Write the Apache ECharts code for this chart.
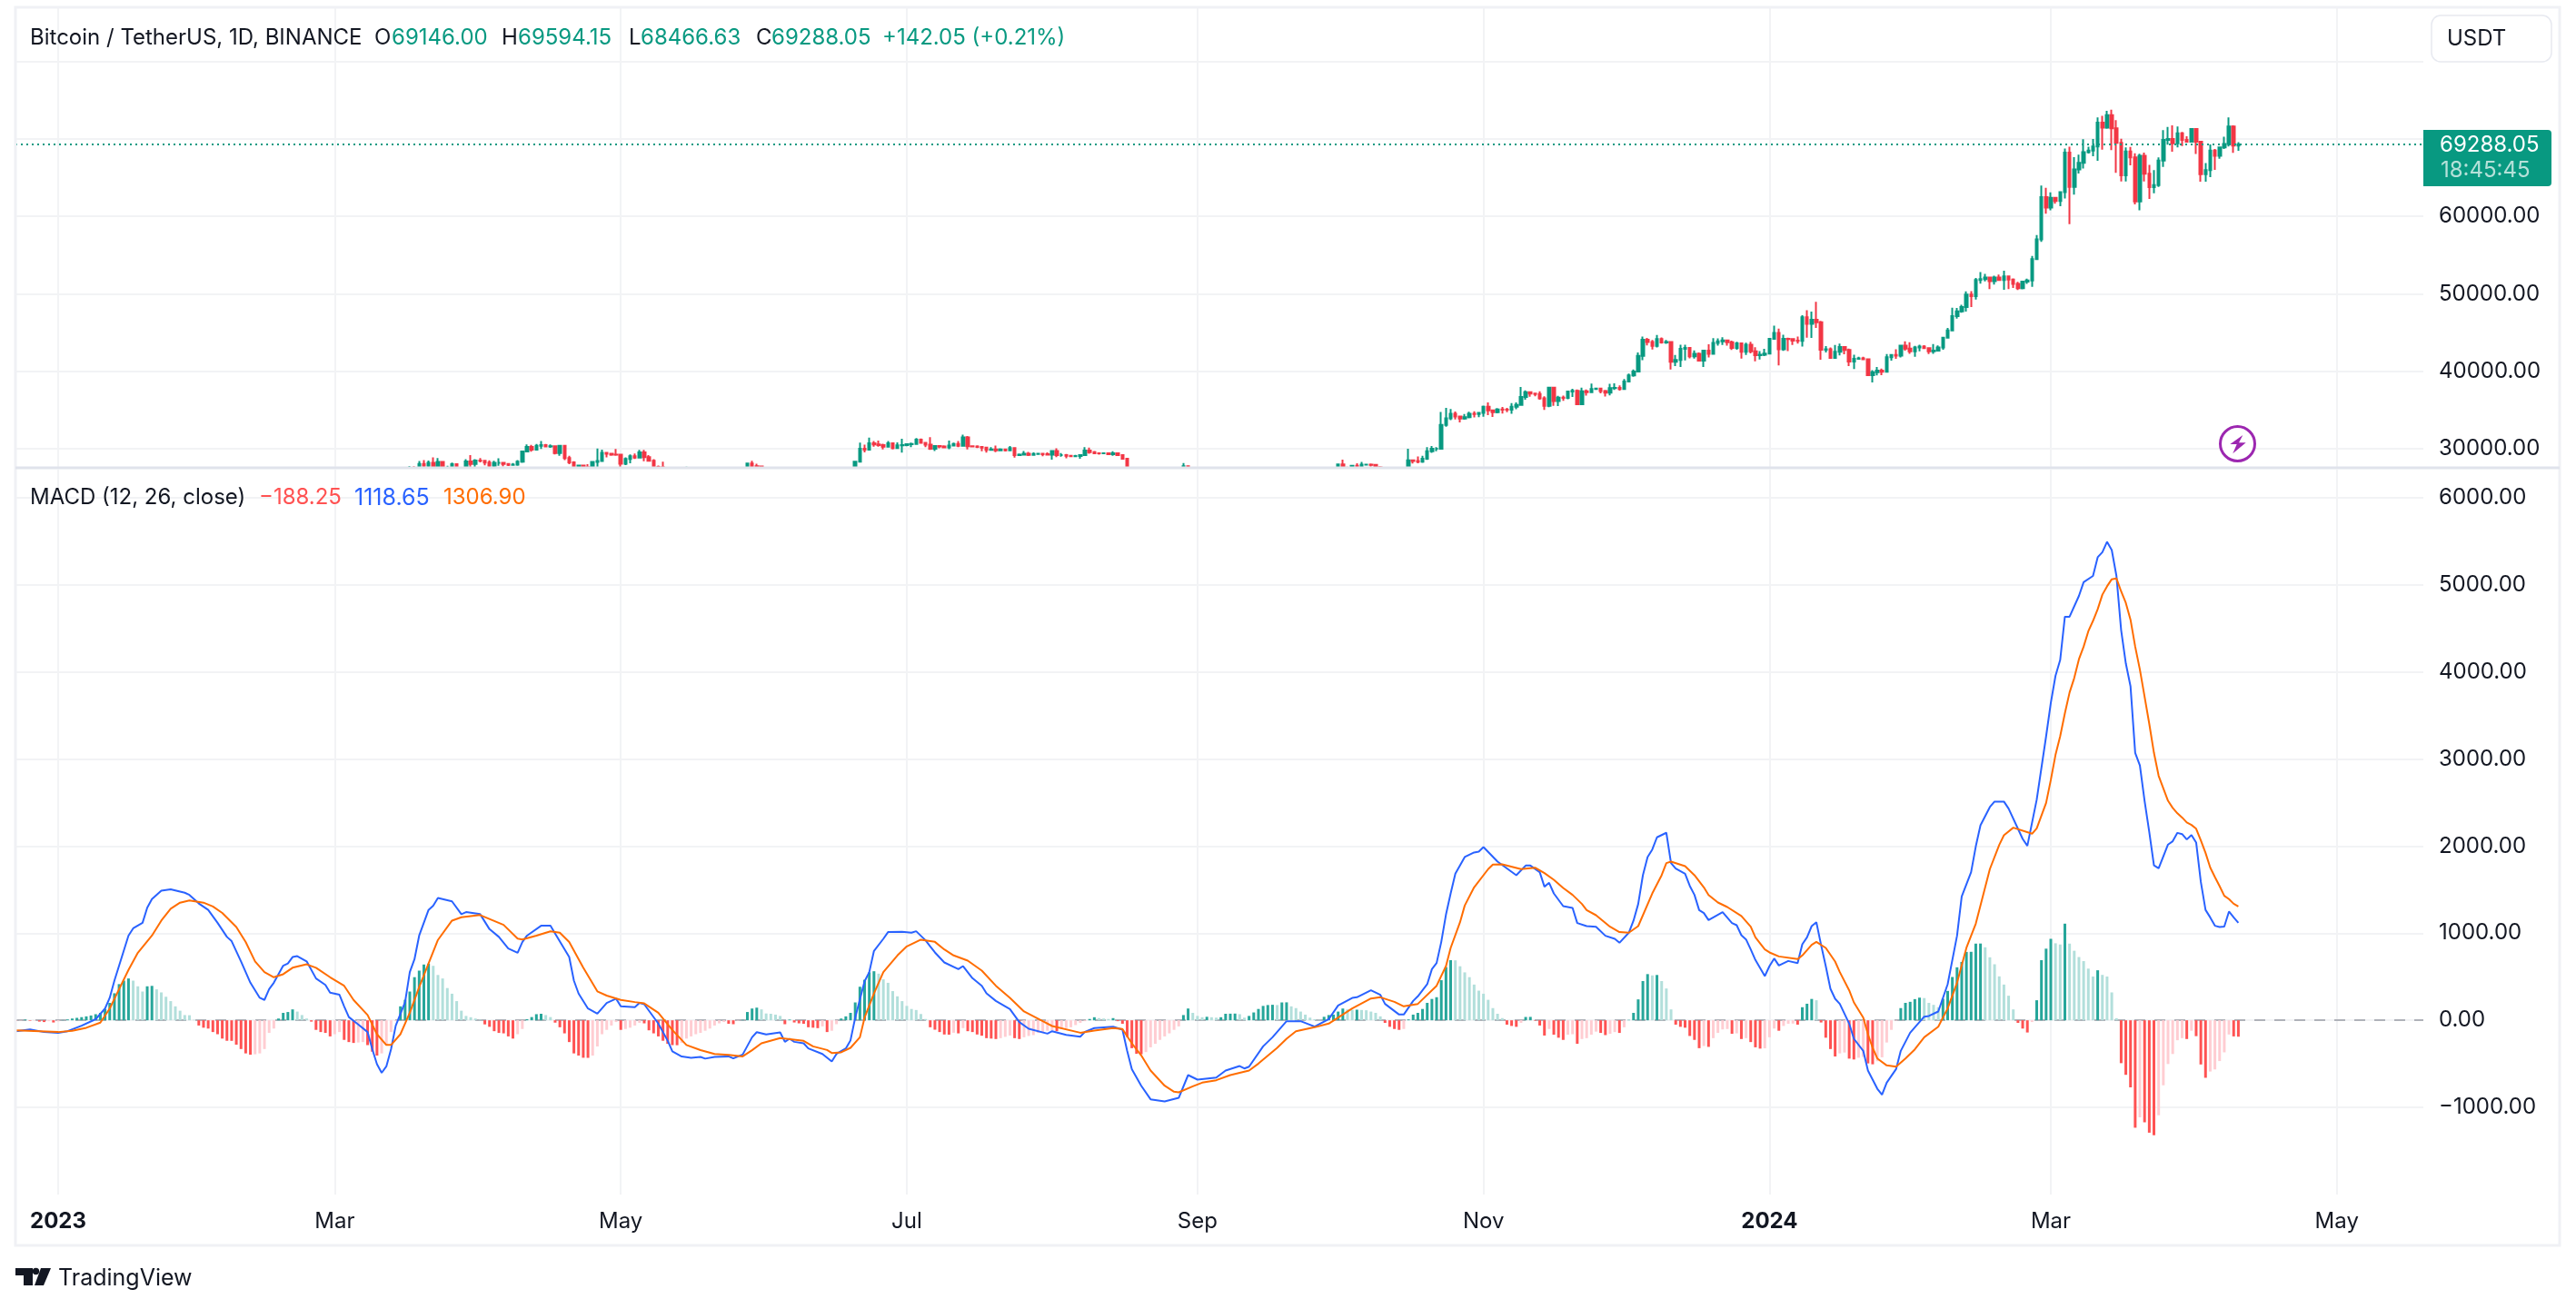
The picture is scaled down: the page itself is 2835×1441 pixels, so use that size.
<!DOCTYPE html>
<html>
<head>
<meta charset="utf-8">
<title>BTCUSDT daily with MACD</title>
<script src="https://cdn.jsdelivr.net/npm/echarts@6/dist/echarts.min.js"></script>
<style>
html,body{margin:0;padding:0;background:#fff}
#chart{width:2835px;height:1441px}
</style>
</head>
<body>
<div id="chart"></div>
<script>
// Days are counted from 2023-01-01 (day 0). Daily candles start on 2023-03-15 (day 73).
const candleStartDay = 73;

// Candle rows per month: [open, high, low, close]
const mar2023 = [[24770,25250,23900,24370],[24370,25200,24120,25050],[25050,27760,24890,27450],[27450,27730,26640,26960],[26960,28400,26880,28040],[28040,28530,27180,27800],[27800,28470,27350,28170],[28170,28870,26600,27300],[27300,28790,27150,28300],[28300,28400,27000,27490],[27490,27800,27160,27490],[27490,28200,27400,28000],[28000,28050,26520,27140],[27140,27520,26630,27270],[27270,28650,27240,28350],[28350,29170,27470,28030],[28030,28660,27520,28470]];
const apr2023 = [[28470,28800,28250,28450],[28450,28530,27860,28200],[28200,28500,27200,27800],[27800,28450,27650,28170],[28170,28770,27800,28170],[28170,28190,27720,28040],[28040,28100,27780,27920],[27920,28150,27880,27950],[27950,28530,27800,28330],[28330,29770,28170,29650],[29650,30560,29610,30230],[30230,30490,29620,29880],[29880,30620,29860,30390],[30390,31000,29970,30480],[30480,30610,30230,30300],[30300,30550,30120,30320],[30320,30320,29270,29430],[29430,30490,29100,30390],[30390,30410,28530,28800],[28800,29100,28000,28240],[28240,28370,27130,27260],[27260,27880,27130,27820],[27820,27820,27340,27590],[27590,28000,26940,27510],[27510,28400,27200,28300],[28300,30020,27240,28420],[28420,29890,28380,29480],[29480,29600,28880,29340],[29340,29460,29090,29240],[29240,29960,29090,29230]];
const may2023 = [[29230,29330,27660,28070],[28070,28880,27870,28670],[28670,29270,28130,29030],[29030,29380,28670,28840],[28840,29850,28810,29530],[29530,29840,28380,28900],[28900,29180,28380,28450],[28450,28660,27240,27660],[27660,27830,27360,27620],[27620,28330,26770,27600],[27600,27640,26700,26970],[26970,27070,25810,26800],[26800,27050,26690,26780],[26780,27200,26600,26920],[26920,27680,26730,27170],[27170,27300,26870,27030],[27030,27490,26550,27400],[27400,27480,26400,26830],[26830,27180,26630,26890],[26890,27150,26830,27100],[27100,27270,26700,26750],[26750,27050,26520,26850],[26850,27500,26800,27220],[27220,27220,25870,26330],[26330,26630,25870,26470],[26470,26930,26350,26720],[26720,26980,26550,26870],[26870,28200,26760,28080],[28080,28450,27530,27750],[27750,28050,27560,27700],[27700,27830,26850,27210]];
const jun2023 = [[27210,27350,26600,26820],[26820,27300,26500,27250],[27250,27330,26920,27070],[27070,27450,26950,27120],[27120,27130,25390,25760],[25760,27350,25350,27240],[27240,27400,26120,26340],[26340,26810,26210,26500],[26500,26780,26280,26480],[26480,26530,25380,25850],[25850,26210,25600,25940],[25940,26090,25650,25900],[25900,26430,25730,25900],[25900,26080,24800,25130],[25130,25750,24800,25590],[25590,26480,25170,26340],[26340,26770,26180,26510],[26510,26700,26280,26340],[26340,27040,26250,26850],[26850,28400,26660,28310],[28310,30800,28260,30010],[30010,30520,29520,29890],[29890,31430,29810,30690],[30690,31000,30260,30550],[30550,31060,30270,30470],[30470,30650,29900,30270],[30270,31000,30220,30690],[30690,30700,29900,30080],[30080,30830,30030,30450],[30450,31280,29500,30470]];
const jul2023 = [[30470,30660,30330,30590],[30590,30800,30200,30620],[30620,31380,30570,31160],[31160,31320,30640,30770],[30770,30880,30200,30510],[30510,31500,29850,29990],[29990,30450,29700,30350],[30350,30380,30050,30290],[30290,30450,30070,30170],[30170,31050,29950,30410],[30410,30800,30280,30620],[30620,30980,30200,30390],[30390,31820,30250,31470],[31470,31640,29900,30320],[30320,30400,30250,30290],[30290,30450,30080,30230],[30230,30340,29660,30140],[30140,30240,29500,29860],[29860,30190,29730,29910],[29910,30420,29560,29800],[29800,30050,29720,29900],[29900,29990,29640,29790],[29790,30350,29730,30080],[30080,30100,28860,29180],[29180,29380,29050,29230],[29230,29690,29120,29350],[29350,29580,29050,29210],[29210,29530,29120,29320],[29320,29410,29250,29350],[29350,29450,29030,29280],[29280,29530,29110,29230]];
const aug2023 = [[29230,29740,28590,29700],[29700,30050,28920,29170],[29170,29440,28960,29170],[29170,29320,28750,29080],[29080,29110,28960,29040],[29040,29200,28970,29050],[29050,29250,28700,29180],[29180,30200,29100,29770],[29770,30130,29360,29560],[29560,29700,29320,29420],[29420,29540,29220,29400],[29400,29480,29350,29420],[29420,29450,29250,29280],[29280,29660,29100,29400],[29400,29490,29060,29170],[29170,29230,28700,28700],[28700,28780,25170,26620],[26620,26830,25620,26050],[26050,26260,25800,26100],[26100,26300,26000,26190],[26190,26260,25810,26130],[26130,26140,25300,26040],[26040,26810,25790,26430],[26430,26550,25860,26160],[26160,26310,25770,26060],[26060,26110,25970,26010],[26010,26180,25980,26090],[26090,26240,25860,26100],[26100,28140,25920,27730],[27730,27760,27030,27300],[27300,27570,25660,25930]];
const sep2023 = [[25930,26130,25330,25800],[25800,25980,25720,25870],[25870,26100,25810,25970],[25970,26100,25600,25810],[25810,25880,25570,25780],[25780,26020,25370,25750],[25750,26430,25620,26240],[26240,26440,25640,25900],[25900,25950,25800,25890],[25890,25980,25370,25830],[25830,25880,24900,25160],[25160,26560,25130,25840],[25840,26400,25760,26220],[26220,26840,26130,26530],[26530,26890,26220,26600],[26600,26770,26470,26570],[26570,26630,26150,26530],[26530,27480,26380,26760],[26760,27490,26670,27210],[27210,27380,26800,27130],[27130,27160,26350,26570],[26570,26740,26470,26580],[26580,26640,26500,26580],[26580,26720,26130,26250],[26250,26430,26000,26300],[26300,26400,26100,26210],[26210,26820,26090,26350],[26350,27300,26330,27020],[27020,27230,26670,26910],[26910,27090,26880,26970]];
const oct2023 = [[26970,28060,26960,27980],[27980,28590,27330,27500],[27500,27680,27160,27430],[27430,27840,27220,27790],[27790,28120,27280,27410],[27410,28290,27180,27930],[27930,28000,27860,27950],[27950,28100,27690,27920],[27920,27990,27260,27590],[27590,27740,27110,27390],[27390,27480,26560,26870],[26870,26940,26540,26750],[26750,27100,26660,26860],[26860,26990,26810,26850],[26850,27300,26800,27150],[27150,30000,27110,28500],[28500,28620,28080,28400],[28400,28990,28120,28320],[28320,29100,28170,28710],[28710,30200,28550,29680],[29680,30350,29480,29990],[29990,30200,29680,29990],[29990,34740,29900,33070],[33070,35280,32830,33920],[33920,35130,33690,34500],[34500,34800,33770,34150],[34150,34240,33390,33900],[33900,34480,33750,34080],[34080,34770,33930,34520],[34520,34850,34050,34480],[34480,34720,34080,34640]];
const nov2023 = [[34640,35580,34120,35420],[35420,35980,34340,34940],[34940,34940,34100,34730],[34730,35260,34580,35080],[35080,35380,34530,35050],[35050,35280,34730,35040],[35040,35890,34520,35430],[35430,35990,35110,35650],[35650,37970,35550,36690],[36690,37530,36340,37310],[37310,37410,36720,37130],[37130,37240,36770,37060],[37060,37430,36340,36500],[36500,36760,35000,35550],[35550,37980,35360,37880],[37880,37940,35550,36160],[36160,36840,35510,36600],[36600,36860,36180,36570],[36570,37500,36380,37390],[37390,37750,36690,37470],[37470,37650,35720,35750],[35750,37890,35630,37420],[37420,37650,36870,37290],[37290,38420,37250,37720],[37720,37890,37600,37780],[37780,37830,37150,37450],[37450,37580,36750,37240],[37240,38390,36880,37820],[37820,38450,37600,37850],[37850,38170,37500,37710]];
const dec2023 = [[37710,38990,37630,38680],[38680,39700,38650,39460],[39460,40220,39280,39970],[39970,42420,39970,41980],[41980,44490,41420,44080],[44080,44300,43330,43770],[43770,44050,42820,43290],[43290,44700,43080,44170],[44170,44370,43580,43720],[43720,44050,43560,43790],[43790,43800,40220,41240],[41240,42100,40680,41450],[41450,43430,40560,42890],[42890,43420,41400,43020],[43020,43090,41660,41940],[41940,42700,41630,42260],[42260,42430,41250,41370],[41370,42760,40550,42660],[42660,43500,41800,42270],[42270,44290,42200,43650],[43650,44240,43300,43860],[43860,44400,43400,43990],[43990,44020,43300,43740],[43740,43950,42750,43020],[43020,43800,42770,43600],[43600,43600,41640,42520],[42520,43680,42100,43440],[43440,43800,42300,42580],[42580,43120,41300,42070],[42070,42610,41520,42140],[42140,42900,41970,42280]];
const jan2024 = [[42280,44180,42180,44180],[44180,45880,44150,44950],[44950,45500,40750,42850],[42850,44730,42630,44180],[44180,44350,42620,44160],[44160,44220,43400,43970],[43970,44480,43570,43930],[43930,47250,43200,46970],[46970,47900,44340,46120],[46120,47700,44300,46650],[46650,48970,45600,46340],[46340,46500,41500,42780],[42780,43260,42440,42840],[42840,43080,41720,41730],[41730,43400,41720,42510],[42510,43580,42050,43140],[43140,43200,42190,42740],[42740,42930,40680,41260],[41260,42130,40280,41620],[41620,41870,41500,41670],[41670,41880,41500,41550],[41550,41680,39430,39500],[39500,40130,38550,39880],[39880,40550,39480,40080],[40080,40350,39500,39930],[39930,42230,39820,41810],[41810,42200,41390,42120],[42120,42840,41620,42030],[42030,43310,41800,43300],[43300,43880,42680,42940],[42940,43750,42270,42580]];
const feb2024 = [[42580,43290,41880,43080],[43080,43420,42570,43190],[43190,43380,42880,42990],[42990,43120,42220,42580],[42580,43530,42260,42660],[42660,43350,42570,43090],[43090,44370,42790,44340],[44340,45610,44340,45290],[45290,48200,45240,47130],[47130,48170,46800,47750],[47750,48590,47560,48290],[48290,50330,47710,49920],[49920,50360,48300,49700],[49700,52040,49270,51780],[51780,52820,51310,51900],[51900,52570,51620,52120],[52120,52160,50620,51640],[51640,52350,51200,52120],[52120,52480,51680,51780],[51780,52980,50520,52260],[52260,52370,50620,51850],[51850,52000,50770,51300],[51300,51540,50500,50730],[50730,51680,50580,51570],[51570,51950,51280,51730],[51730,54910,50900,54480],[54480,57580,54450,57040],[57040,64000,56700,62500],[62500,63680,60360,61130]];
const mar2024 = [[61130,63110,60780,62390],[62390,62430,61650,61990],[61990,63230,61320,63130],[63130,68770,62320,68240],[68240,69000,59000,63800],[63800,67640,62800,66070],[66070,67980,65550,66920],[66920,69960,66180,68300],[68300,69000,68130,68500],[68500,70000,67780,69020],[69020,72800,67190,72120],[72120,73000,68620,71480],[71480,73650,71330,73070],[73070,73780,68550,71390],[71390,72420,65630,69500],[69500,70040,64520,65300],[65300,68900,64530,68390],[68390,68960,66600,67610],[67610,68150,61560,61940],[61940,68100,60780,67840],[67840,68240,64530,65500],[65500,66650,62260,63790],[63790,65980,63000,64040],[64040,67620,63800,67210],[67210,71150,66390,69880],[69880,71560,69280,69990],[69990,71770,68360,69450],[69450,71600,68900,70740],[70740,70910,69080,69890],[69890,70350,69560,69640],[69640,71370,69570,71290]];
const apr2024 = [[71290,71290,68060,69650],[69650,69670,64500,65460],[65460,66900,64490,65970],[65970,69290,65060,68510],[68510,68720,66010,67840],[67840,69000,67440,68900],[68900,70280,68700,69360],[69360,72800,69040,71620],[71620,71760,68210,69146],[69146,69594.15,68466.63,69288.05]];

// MACD histogram, one value per day from day -9 to day 465
const histStartDay = -9;
const histValues = [
-5,-4,8,-6,-4,-15,-20,-10,-25,-12,
3,10,20,28,36,45,55,70,85,130,
200,310,415,455,480,455,390,330,390,395,
355,320,270,220,160,110,60,58,5,-60,
-85,-95,-135,-160,-210,-235,-236,-280,-330,-380,
-395,-390,-380,-330,-145,-95,20,85,95,125,
100,60,20,-15,-110,-135,-145,-185,-160,-135,
-225,-250,-260,-255,-250,-285,-360,-405,-380,-290,
-135,-10,160,235,330,495,570,640,650,625,
520,480,370,305,220,110,50,35,20,7,
-47,-75,-125,-145,-150,-185,-210,-160,-100,12,
37,70,75,60,37,-27,-80,-150,-250,-380,
-405,-430,-431,-405,-300,-160,-110,-60,-20,-110,
-100,-85,-60,-30,-35,-115,-150,-185,-235,-270,
-285,-286,-260,-210,-185,-160,-145,-120,-95,-60,
-35,-20,-40,-45,-5,5,95,135,145,125,
78,75,65,50,-45,8,-25,-35,-40,-80,
-85,-90,-70,-135,-120,-45,20,45,85,205,
385,465,550,563,535,470,430,335,275,220,
165,130,118,72,15,-80,-108,-135,-163,-165,
-143,-150,-90,-125,-135,-163,-177,-205,-210,-215,
-205,-190,-175,-205,-215,-195,-180,-170,-145,-135,
-120,-115,-125,-100,-90,-80,-55,-30,-10,15,
35,25,20,15,25,-10,-40,-190,-320,-385,
-390,-365,-310,-270,-225,-185,-150,-110,-70,60,
135,85,50,35,40,35,30,35,75,76,
77,70,30,50,90,130,165,175,178,175,
205,206,160,140,100,65,30,12,5,40,
60,65,100,135,125,120,122,118,115,100,
85,45,-30,-75,-100,-110,-100,10,65,85,
130,200,245,265,460,610,690,688,620,550,
495,410,340,305,235,140,75,25,-50,-65,
-75,-30,38,39,-5,-60,-175,-100,-165,-200,
-225,-165,-160,-270,-215,-205,-165,-130,-145,-170,
-155,-135,-145,-80,5,85,240,450,530,515,
520,450,365,125,-50,-75,-85,-180,-225,-320,
-295,-305,-205,-145,-105,-100,-155,-150,-215,-205,
-250,-310,-325,-322,-195,-95,-120,-65,-40,-38,
-50,150,190,245,230,-25,-200,-330,-415,-380,
-370,-440,-450,-430,-420,-495,-505,-470,-425,-255,
-110,-5,140,200,212,243,260,255,200,177,
150,247,337,497,608,670,785,786,880,881,
838,723,643,504,410,282,125,-30,-95,-140,
-20,230,690,822,935,884,870,1109,880,798,
726,679,593,502,574,521,502,320,24,-492,
-626,-770,-1233,-1114,-1171,-1290,-1319,-1090,-746,-502,
-387,-229,-205,-215,-120,-182,-507,-660,-588,-564,
-468,-368,-163,-185,-188.25
];

// MACD line: [day, value]
const macdLine = [[-9,-125],[-6,-106],[-3,-135],[0,-145],[2,-125],[5,-62],[8,12],[10,135],[11,258],[12,455],[13,627],[14,800],[15,972],[16,1055],[18,1119],[19,1292],[20,1390],[22,1488],[24,1503],[27,1464],[28,1439],[30,1341],[32,1267],[34,1119],[36,957],[37,908],[39,676],[41,431],[43,258],[44,234],[45,357],[46,431],[48,627],[49,652],[50,726],[51,736],[53,676],[55,480],[57,406],[58,317],[60,293],[61,160],[62,37],[64,-47],[66,-135],[67,-332],[68,-504],[69,-603],[70,-529],[71,-332],[72,-62],[74,209],[75,553],[76,701],[77,972],[79,1267],[80,1316],[81,1404],[84,1365],[86,1218],[87,1242],[90,1218],[92,1046],[94,957],[96,824],[98,775],[99,898],[100,972],[103,1085],[105,1085],[106,996],[109,726],[110,455],[111,307],[113,135],[115,76],[117,199],[119,248],[120,160],[123,150],[124,199],[125,184],[128,-37],[130,-234],[131,-357],[133,-416],[135,-430],[137,-421],[138,-440],[140,-421],[143,-414],[144,-438],[146,-393],[148,-195],[149,-136],[151,-163],[154,-139],[155,-247],[156,-212],[157,-247],[159,-264],[160,-323],[163,-386],[165,-473],[166,-386],[168,-323],[169,-229],[170,31],[172,448],[173,553],[174,796],[176,935],[177,1012],[180,1015],[182,1005],[183,1022],[185,918],[186,848],[187,779],[189,664],[192,587],[193,622],[195,483],[197,396],[198,309],[200,222],[203,129],[205,-21],[207,-97],[211,-153],[212,-125],[215,-167],[218,-188],[219,-132],[221,-90],[225,-73],[227,-108],[228,-351],[229,-560],[231,-751],[233,-907],[236,-932],[239,-890],[241,-629],[243,-681],[247,-657],[249,-577],[252,-525],[253,-553],[254,-532],[257,-299],[259,-195],[262,-10],[265,-10],[268,-73],[271,14],[273,170],[276,257],[277,264],[280,344],[282,292],[283,188],[286,66],[287,66],[289,222],[290,275],[292,414],[293,587],[294,657],[295,900],[296,1213],[297,1456],[298,1682],[300,1874],[302,1926],[303,1936],[304,1988],[307,1821],[311,1665],[313,1776],[314,1776],[316,1700],[317,1533],[318,1578],[319,1456],[321,1310],[323,1290],[324,1116],[326,1081],[328,1074],[330,970],[332,935],[333,890],[335,1005],[336,1144],[337,1335],[338,1665],[339,1874],[340,1960],[341,2100],[343,2152],[344,1804],[345,1741],[347,1682],[348,1543],[349,1439],[350,1265],[351,1231],[352,1150],[355,1241],[357,1116],[358,1091],[359,977],[360,928],[361,813],[362,692],[364,507],[365,622],[366,709],[367,629],[369,681],[371,657],[372,872],[373,952],[374,1081],[375,1126],[376,866],[377,622],[378,362],[379,247],[380,188],[382,-38],[383,-212],[385,-351],[386,-577],[388,-786],[389,-855],[390,-716],[392,-560],[393,-351],[395,-143],[398,42],[399,49],[401,101],[403,414],[405,970],[406,1422],[408,1700],[409,1995],[410,2239],[412,2447],[413,2510],[415,2510],[416,2430],[419,2082],[420,2002],[422,2534],[424,3260],[425,3642],[426,3953],[427,4135],[428,4632],[429,4632],[431,4871],[432,5029],[434,5100],[435,5315],[436,5373],[437,5492],[438,5397],[439,5100],[440,4479],[441,4096],[442,3834],[443,3069],[444,2925],[445,2519],[446,2161],[447,1778],[448,1745],[450,2017],[451,2055],[452,2151],[453,2137],[454,2075],[455,2127],[456,2041],[457,1587],[458,1267],[459,1181],[460,1085],[461,1071],[462,1076],[463,1248],[464,1181],[465,1118.65]];

// Signal line: [day, value]
const signalLine = [[-9,-116],[0,-135],[3,-120],[6,-86],[9,-27],[11,135],[13,357],[15,578],[17,775],[20,972],[22,1144],[24,1281],[26,1350],[28,1375],[31,1350],[33,1306],[35,1232],[38,1070],[40,898],[42,676],[44,553],[46,494],[48,529],[50,603],[53,642],[55,603],[58,494],[61,396],[63,234],[66,61],[68,-160],[70,-283],[71,-283],[73,-160],[75,86],[77,381],[79,652],[81,922],[84,1144],[86,1183],[90,1208],[95,1095],[98,937],[99,927],[102,972],[105,1021],[107,1006],[109,898],[112,603],[115,332],[117,283],[120,234],[123,209],[125,194],[128,86],[131,-111],[134,-283],[137,-342],[140,-386],[143,-396],[146,-414],[148,-344],[150,-264],[154,-205],[159,-236],[161,-299],[164,-341],[165,-375],[167,-368],[169,-316],[171,-195],[172,31],[174,309],[176,553],[179,744],[181,848],[184,925],[187,900],[189,813],[191,744],[194,685],[197,570],[200,396],[203,257],[206,101],[210,-10],[212,-66],[218,-143],[221,-118],[225,-90],[227,-101],[229,-264],[231,-403],[233,-577],[236,-751],[238,-820],[239,-827],[242,-758],[244,-716],[247,-688],[250,-629],[254,-577],[256,-497],[260,-316],[262,-212],[264,-125],[268,-80],[271,-38],[276,136],[280,250],[282,264],[285,212],[287,160],[290,188],[294,396],[296,622],[297,831],[299,1126],[300,1317],[302,1526],[305,1735],[306,1787],[308,1790],[312,1735],[315,1752],[317,1689],[319,1613],[321,1519],[323,1439],[325,1335],[326,1265],[328,1206],[331,1074],[333,1012],[335,1005],[337,1081],[340,1456],[342,1665],[343,1804],[344,1821],[347,1769],[349,1665],[351,1526],[352,1439],[354,1352],[356,1300],[359,1196],[361,1074],[362,952],[364,813],[365,779],[367,733],[371,702],[372,744],[374,866],[375,900],[377,831],[379,674],[380,553],[382,344],[383,205],[385,31],[386,-160],[387,-316],[388,-438],[390,-518],[392,-532],[394,-438],[396,-334],[398,-195],[401,-73],[403,136],[405,431],[407,831],[409,1109],[412,1735],[414,2013],[415,2124],[417,2211],[421,2141],[422,2204],[424,2495],[425,2758],[426,3045],[427,3260],[428,3523],[429,3762],[430,3929],[431,4144],[432,4288],[433,4465],[434,4584],[435,4718],[436,4885],[437,4981],[438,5062],[439,5072],[440,4923],[441,4790],[442,4598],[443,4288],[444,4025],[445,3714],[446,3403],[447,3069],[448,2806],[449,2662],[450,2519],[451,2438],[452,2376],[453,2328],[454,2271],[455,2242],[456,2199],[457,2065],[458,1922],[459,1754],[460,1644],[461,1539],[462,1429],[463,1391],[464,1338],[465,1306.9]];

// Axis ticks
const monthTickDays = [0,59,120,181,243,304,365,425,486];
const monthTickLabels = ['2023','Mar','May','Jul','Sep','Nov','2024','Mar','May'];
const priceGridLevels = [30000,40000,50000,60000,70000,80000];
const priceLabelLevels = [30000,40000,50000,60000,80000];
const macdTicks = [-1000,0,1000,2000,3000,4000,5000,6000];
const lastClose = 69288.05;

const FONT = 'Inter, "Noto Sans", sans-serif';
const INK = '#131722';
const UP = '#089981';
const DOWN = '#f23645';
const GRID_LINE = '#f2f3f5';
const dayPx = 5.16;
const plotLeft = 17, plotRight = 2667;
const xMin = (plotLeft - 64) / dayPx, xMax = (plotRight - 64) / dayPx;

const candleRows = [].concat(mar2023,apr2023,may2023,jun2023,jul2023,aug2023,sep2023,oct2023,nov2023,dec2023,jan2024,feb2024,mar2024,apr2024);
if (candleRows.length !== 393) throw new Error('candle rows: ' + candleRows.length);
if (histValues.length !== 475) throw new Error('histogram values: ' + histValues.length);

// Candlestick rows expected by ECharts: [x, open, close, low, high]
const candleData = candleRows.map((r, i) => [candleStartDay + i, r[0], r[3], r[2], r[1]]);

// Histogram bars: dark while moving away from zero, pale while moving back
const histData = histValues.map((v, i) => {
  const prev = i ? histValues[i - 1] : 0;
  const color = v >= 0 ? (v >= prev ? '#26a69a' : '#b2dfdb') : (v < prev ? '#ff5252' : '#ffcdd2');
  return { value: [histStartDay + i, v], itemStyle: { color } };
});

const xAxisBase = {
  type: 'value', min: xMin, max: xMax,
  axisLine: { show: false },
  axisTick: { show: false, customValues: monthTickDays },
  splitLine: { show: true, lineStyle: { color: GRID_LINE, width: 2 } }
};
const yAxisBase = {
  type: 'value', position: 'right',
  axisLine: { show: false },
  axisTick: { show: false },
  splitLine: { show: true, lineStyle: { color: GRID_LINE, width: 2 } }
};

function txt(text, x, y, fill, size, extra) {
  return { type: 'text', z: 120, silent: true, style: Object.assign({
    text, x, y, fill, font: (size || 24) + 'px ' + FONT, textVerticalAlign: 'middle'
  }, extra || {}) };
}

const graphicElements = [
  // Candles below the price scale's floor stop at the pane divider
  { type: 'rect', z: 3, silent: true, shape: { x: 17, y: 516, width: 2650, height: 30 }, style: { fill: '#fff' } },

  { type: 'rect', z: 90, silent: true, shape: { x: 17, y: 8, width: 2800, height: 1363 }, style: { fill: 'none', stroke: '#f0f1f5', lineWidth: 3 } },
  { type: 'line', z: 91, silent: true, shape: { x1: 17, y1: 515, x2: 2817, y2: 515 }, style: { stroke: '#e0e3eb', lineWidth: 3 } },

  // Instrument header
  txt('Bitcoin / TetherUS, 1D, BINANCE', 33, 42, INK),
  txt('O', 412, 42, INK), txt('69146.00', 431, 42, UP),
  txt('H', 552, 42, INK), txt('69594.15', 570, 42, UP),
  txt('L', 692, 42, INK), txt('68466.63', 705, 42, UP),
  txt('C', 832, 42, INK), txt('69288.05', 849, 42, UP),
  txt('+142.05 (+0.21%)', 971, 42, UP),

  // Indicator header
  txt('MACD (12, 26, close)', 33, 548, INK),
  txt('\u2212188.25', 285, 548, '#ff5252'),
  txt('1118.65', 390, 548, '#2962ff', 25),
  txt('1306.90', 488, 548, '#ff6d00'),

  // Currency button, with clear space under it on the price scale
  { type: 'rect', z: 105, silent: true, shape: { x: 2669, y: 10, width: 146, height: 66 }, style: { fill: '#fff' } },
  { type: 'rect', z: 110, silent: true, shape: { x: 2676, y: 17, width: 132, height: 51, r: 10 }, style: { fill: '#fff', stroke: '#e7e9f0', lineWidth: 1.5 } },
  txt('USDT', 2693, 43, INK),

  // Last price tag
  { type: 'rect', z: 110, silent: true, shape: { x: 2667, y: 143, width: 141, height: 62, r: [0, 4, 4, 0] }, style: { fill: UP } },
  txt('69288.05', 2685, 160, '#fff'),
  txt('18:45:45', 2686, 188, 'rgba(255,255,255,0.7)'),

  // Purple lightning badge
  { type: 'circle', z: 110, silent: true, shape: { cx: 2462.5, cy: 488.5, r: 19 }, style: { fill: '#fff', stroke: '#9c27b0', lineWidth: 3 } },
  { type: 'polygon', z: 111, silent: true, shape: { points: [[2468.3,479],[2454.3,489],[2461.7,489],[2457.3,499.3],[2471.7,487.3],[2464,487.3]] }, style: { fill: '#9c27b0' } },

  // Footer mark and wordmark
  { type: 'polygon', z: 110, silent: true, shape: { points: [[17,1396],[36,1396],[36,1415],[26,1415],[26,1404],[17,1404]] }, style: { fill: INK } },
  { type: 'circle', z: 110, silent: true, shape: { cx: 39.5, cy: 1399.5, r: 3.7 }, style: { fill: INK } },
  { type: 'polygon', z: 110, silent: true, shape: { points: [[45,1396],[56,1396],[48,1415],[38,1415]] }, style: { fill: INK } },
  txt('TradingView', 64, 1407, INK, 25)
];

const chart = echarts.init(document.getElementById('chart'), null, { renderer: 'canvas' });
chart.setOption({
  animation: false,
  backgroundColor: '#fff',
  textStyle: { fontFamily: FONT },
  grid: [
    { left: plotLeft, width: plotRight - plotLeft, top: 8, height: 506 },
    { left: plotLeft, width: plotRight - plotLeft, top: 517, height: 798 }
  ],
  xAxis: [
    Object.assign({}, xAxisBase, { gridIndex: 0, axisLabel: { show: false } }),
    Object.assign({}, xAxisBase, {
      gridIndex: 1, z: 5,
      axisLabel: {
        show: true, customValues: monthTickDays, margin: 18, color: INK, fontSize: 24, fontFamily: FONT,
        hideOverlap: false, showMinLabel: true, showMaxLabel: true,
        formatter: (v) => {
          const label = monthTickLabels[monthTickDays.indexOf(Math.round(v))];
          return /^\d{4}$/.test(label) ? '{year|' + label + '}' : label;
        },
        rich: { year: { fontWeight: 700, fontSize: 24, fontFamily: FONT, color: INK } }
      }
    })
  ],
  yAxis: [
    Object.assign({}, yAxisBase, {
      gridIndex: 0, min: 27650, max: 87010,
      axisTick: { show: false, customValues: priceGridLevels },
      axisLabel: { customValues: priceLabelLevels, margin: 17, padding: [4, 0, 0, 0], color: INK, fontSize: 24, fontFamily: FONT, formatter: (v) => v.toFixed(2) }
    }),
    Object.assign({}, yAxisBase, {
      gridIndex: 1, z: 5, min: -2000, max: 6320,
      axisTick: { show: false, customValues: macdTicks },
      axisLabel: { customValues: macdTicks, margin: 17, padding: [4, 0, 0, 0], color: INK, fontSize: 24, fontFamily: FONT, formatter: (v) => v.toFixed(2).replace('-', '\u2212') }
    })
  ],
  series: [
    {
      type: 'candlestick', name: 'BTCUSDT', xAxisIndex: 0, yAxisIndex: 0, barWidth: 3, clip: true, z: 2,
      encode: { x: 0, y: [1, 2, 3, 4] },
      itemStyle: { color: UP, color0: DOWN, borderColor: UP, borderColor0: DOWN, borderWidth: 2 },
      data: candleData,
      markLine: {
        silent: true, symbol: ['none', 'none'], label: { show: false }, animation: false,
        lineStyle: { color: UP, type: [2, 4], width: 2 },
        data: [{ yAxis: lastClose }]
      }
    },
    {
      type: 'bar', name: 'Histogram', xAxisIndex: 1, yAxisIndex: 1, barWidth: 3, z: 6,
      data: histData,
      markLine: {
        silent: true, symbol: ['none', 'none'], label: { show: false }, animation: false,
        lineStyle: { color: 'rgba(120,123,134,0.55)', type: [12, 10], width: 2 },
        data: [{ yAxis: 0 }]
      }
    },
    {
      type: 'line', name: 'MACD', xAxisIndex: 1, yAxisIndex: 1, z: 7, showSymbol: false,
      lineStyle: { color: '#2962ff', width: 2 }, itemStyle: { color: '#2962ff' }, data: macdLine
    },
    {
      type: 'line', name: 'Signal', xAxisIndex: 1, yAxisIndex: 1, z: 8, showSymbol: false,
      lineStyle: { color: '#ff6d00', width: 2 }, itemStyle: { color: '#ff6d00' }, data: signalLine
    }
  ],
  graphic: { elements: graphicElements }
});
</script>
</body>
</html>
